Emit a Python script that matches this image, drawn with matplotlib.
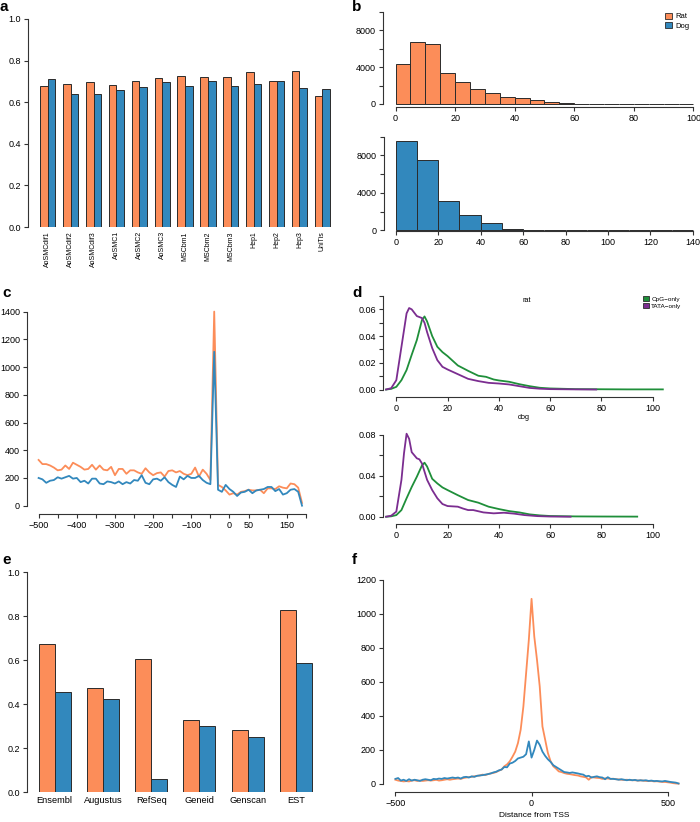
import numpy as np
import matplotlib
matplotlib.use('Agg')
import matplotlib.pyplot as plt
from matplotlib.patches import Patch

plt.rcParams['font.family'] = ['Liberation Sans', 'DejaVu Sans']
plt.rcParams['font.size'] = 6.5

ORANGE = '#FC8D59'
BLUE = '#3288BD'
GREEN = '#1F8F3A'
PURPLE = '#7B2D90'
EDGE = '#2b2b2b'

# panel a
cells = ['AoSMCdif1', 'AoSMCdif2', 'AoSMCdif3', 'AoSMC1', 'AoSMC2', 'AoSMC3',
         'MSCbm1', 'MSCbm2', 'MSCbm3', 'Hep1', 'Hep2', 'Hep3', 'UniTis']
a_rat = [0.679, 0.687, 0.696, 0.684, 0.703, 0.717, 0.724, 0.719, 0.719, 0.743, 0.700, 0.752, 0.631]
a_dog = [0.712, 0.639, 0.641, 0.661, 0.671, 0.696, 0.676, 0.700, 0.676, 0.687, 0.704, 0.666, 0.665]

# panel b
rat_edges = list(range(0, 105, 5))
rat_counts = [4320, 6740, 6450, 3350, 2380, 1660, 1190, 790, 650, 470, 180, 75, 40, 20, 12, 8, 6, 5, 4, 3]
dog_edges = list(range(0, 150, 10))
dog_counts = [9510, 7500, 3170, 1660, 760, 145, 72, 36, 15, 8, 6, 5, 4, 3]

# panel c
c_pos = list(range(-500, 200, 10))
c_rat = [330, 300, 300, 290, 275, 255, 260, 290, 265, 310, 295, 280, 260, 265, 295, 260,
         290, 260, 255, 280, 220, 265, 265, 230, 255, 255, 240, 230, 270, 240, 220, 235,
         240, 210, 250, 255, 240, 250, 230, 220, 230, 275, 210, 260, 230, 185,
         1400,
         150, 135, 110, 80, 90, 80, 100, 105, 115, 110, 110, 115, 90, 125, 125, 120,
         140, 130, 125, 160, 155, 130, 20]
c_dog = [200, 190, 165, 180, 185, 205, 195, 205, 215, 195, 200, 170, 180, 160, 195, 195,
         160, 155, 175, 170, 160, 175, 155, 170, 160, 185, 180, 220, 165, 155, 190, 195,
         180, 205, 170, 150, 135, 210, 190, 215, 200, 200, 215, 185, 165, 155,
         1110,
         115, 100, 150, 120, 100, 70, 95, 100, 115, 90, 110, 115, 120, 135, 135, 105,
         120, 80, 90, 115, 120, 100, 0]

# panel d (density curves)
d_rat_cpg_x = [-4, -2, 0, 2, 4, 6, 8, 10, 11, 12, 14, 16, 18, 20, 24, 28, 32, 35, 38, 40,
               44, 48, 52, 56, 60, 70, 80, 90, 104]
d_rat_cpg_y = [0.0, 0.0005, 0.002, 0.007, 0.0146, 0.026, 0.037, 0.052, 0.0547, 0.051, 0.040,
               0.032, 0.028, 0.025, 0.018, 0.014, 0.0103, 0.0095, 0.0075, 0.0068, 0.0058,
               0.004, 0.0025, 0.0013, 0.0008, 0.0003, 0.0002, 0.0001, 0.0001]
d_rat_tata_x = [-4, -2, 0, 2, 4, 5, 6, 8, 10, 11, 12, 14, 16, 18, 20, 24, 28, 32, 36, 40,
                44, 48, 52, 56, 60, 70, 78]
d_rat_tata_y = [0.0, 0.001, 0.007, 0.032, 0.057, 0.061, 0.060, 0.055, 0.0535, 0.050, 0.043,
                0.031, 0.022, 0.017, 0.015, 0.0115, 0.008, 0.0063, 0.005, 0.0045, 0.0038,
                0.0025, 0.0012, 0.0006, 0.0003, 0.0001, 0.0]
d_dog_cpg_x = [-4, -2, 0, 2, 4, 6, 8, 10, 11, 12, 14, 16, 18, 20, 24, 28, 32, 36, 40, 44,
               48, 52, 56, 60, 70, 80, 94]
d_dog_cpg_y = [0.0, 0.0004, 0.0016, 0.0065, 0.018, 0.029, 0.039, 0.050, 0.0527, 0.049, 0.037,
               0.0325, 0.0286, 0.026, 0.021, 0.0163, 0.0137, 0.0098, 0.0075, 0.0055, 0.0042,
               0.0023, 0.0013, 0.0007, 0.0003, 0.0002, 0.0001]
d_dog_tata_x = [-4, -2, 0, 2, 3, 4, 5, 6, 8, 9, 10, 12, 14, 16, 18, 20, 24, 26, 28, 30, 34,
                38, 42, 46, 50, 55, 60, 68]
d_dog_tata_y = [0.0, 0.001, 0.005, 0.036, 0.062, 0.081, 0.076, 0.063, 0.057, 0.056, 0.052,
                0.036, 0.026, 0.018, 0.0124, 0.0104, 0.0098, 0.008, 0.0065, 0.0065, 0.0042,
                0.0033, 0.0039, 0.003, 0.0016, 0.0006, 0.0002, 0.0]

# panel e
tools = ['Ensembl', 'Augustus', 'RefSeq', 'Geneid', 'Genscan', 'EST']
e_rat = [0.674, 0.474, 0.604, 0.329, 0.284, 0.828]
e_dog = [0.455, 0.424, 0.059, 0.302, 0.249, 0.585]

# panel f
f_pos = list(range(-500, 550, 10))
f_rat = [25, 20, 18, 15, 17, 15, 20, 22, 18, 20,
         18, 20, 22, 20, 22, 25, 20, 22, 25, 28,
         25, 28, 30, 32, 30, 35, 38, 40, 42, 45,
         48, 50, 55, 52, 58, 62, 65, 70, 78, 85,
         104, 115, 133, 160, 190, 240, 318, 455, 650, 846,
         1087, 866, 729, 573, 338, 260, 182, 133, 104, 90,
         74, 70, 64, 60, 58, 55, 52, 50, 45, 42,
         39, 25, 40, 38, 36, 35, 30, 33, 32, 30,
         31, 28, 27, 25, 24, 25, 23, 22, 22, 20,
         21, 20, 18, 17, 18, 15, 16, 14, 12, 12,
         10, 8, 5, 3, 2]
f_dog = [30, 35, 20, 25, 18, 28, 20, 25, 22, 18,
         25, 28, 25, 22, 30, 28, 32, 30, 35, 32,
         35, 38, 35, 38, 32, 40, 42, 38, 45, 42,
         48, 50, 52, 55, 58, 62, 68, 72, 80, 85,
         100, 98, 120, 125, 135, 150, 155, 160, 175, 250,
         155, 200, 255, 230, 190, 165, 145, 130, 110, 100,
         90, 80, 70, 68, 65, 68, 65, 62, 58, 55,
         45, 48, 38, 42, 45, 40, 38, 28, 40, 30,
         30, 28, 25, 28, 25, 22, 25, 22, 24, 20,
         22, 20, 22, 18, 20, 17, 18, 16, 15, 18,
         15, 12, 10, 8, 3]

W, H = 700, 822
fig = plt.figure(figsize=(W / 100, H / 100), dpi=100)


def px_axes(left, top, right, bottom):
    ax = fig.add_axes([left / W, 1 - bottom / H, (right - left) / W, (bottom - top) / H])
    ax.patch.set_alpha(0)
    for s in ['top', 'right']:
        ax.spines[s].set_visible(False)
    for s in ['left', 'bottom']:
        ax.spines[s].set_color('#333333')
        ax.spines[s].set_linewidth(0.8)
    ax.tick_params(length=3, width=0.8, color='#333333', labelsize=6.5, pad=2)
    return ax


def letter(x, y, s):
    fig.text(x / W, 1 - y / H, s, fontsize=11, fontweight='bold', va='top', ha='left')


def ftext(x, y, s, size):
    fig.text(x / W, 1 - y / H, s, fontsize=size, ha='center', va='center')


# ---- a ----
ax = px_axes(28, 19, 333, 227)
idx = np.arange(len(cells))
ax.bar(1 + 3 * idx, a_rat, width=1, align='edge', color=ORANGE, edgecolor=EDGE, linewidth=0.7)
ax.bar(2 + 3 * idx, a_dog, width=1, align='edge', color=BLUE, edgecolor=EDGE, linewidth=0.7)
ax.set_xlim(-0.6, 39.4)
ax.set_ylim(0, 1)
ax.set_yticks(np.arange(0, 1.01, 0.2))
ax.set_yticklabels(['%.1f' % v for v in np.arange(0, 1.01, 0.2)])
ax.spines['bottom'].set_visible(False)
ax.set_xticks(2 + 3 * idx)
ax.set_xticklabels(cells, rotation=90, fontsize=5)
ax.tick_params(axis='x', length=0, pad=3)
letter(0, 0, 'a')

# ---- b ----
ax = px_axes(383, 10, 697, 107)
ax.bar(rat_edges[:-1], rat_counts, width=5, align='edge', color=ORANGE, edgecolor=EDGE, linewidth=0.7)
ax.set_xlim(-4.2, 101.2)
ax.set_ylim(-326, 10185)
ax.set_yticks(range(0, 10001, 2000))
ax.set_yticklabels(['0', '', '4000', '', '8000', ''])
ax.set_xticks(range(0, 101, 20))
ax.spines['left'].set_bounds(0, 10000)
ax.spines['bottom'].set_bounds(0, 100)
ax.legend(handles=[Patch(facecolor=ORANGE, edgecolor=EDGE, linewidth=0.6, label='Rat'),
                   Patch(facecolor=BLUE, edgecolor=EDGE, linewidth=0.6, label='Dog')],
          loc='upper right', bbox_to_anchor=(0.99, 1.02), frameon=False, fontsize=5.5,
          handlelength=0.9, handleheight=0.9, handletextpad=0.4, labelspacing=0.2,
          borderaxespad=0.2)
letter(352, 0, 'b')

ax = px_axes(384, 134, 697, 231)
ax.bar(dog_edges[:-1], dog_counts, width=10, align='edge', color=BLUE, edgecolor=EDGE, linewidth=0.7)
ax.set_xlim(-5.5, 141.9)
ax.set_ylim(-60, 10290)
ax.set_yticks(range(0, 10001, 2000))
ax.set_yticklabels(['0', '', '4000', '', '8000', ''])
ax.set_xticks(range(0, 141, 20))
ax.spines['left'].set_bounds(0, 10000)
ax.spines['bottom'].set_bounds(0, 140)

# ---- c ----
ax = px_axes(27, 308, 315, 514)
ax.plot(c_pos, c_rat, color=ORANGE, lw=1.3)
ax.plot(c_pos, c_dog, color=BLUE, lw=1.3)
ax.set_xlim(-530.4, 224)
ax.set_ylim(-60, 1426)
ax.set_yticks(range(0, 1401, 200))
ax.spines['left'].set_bounds(0, 1400)
xt = list(range(-500, 201, 50))
shown = {-500, -400, -300, -200, -100, 0, 50, 150}
ax.set_xticks(xt)
ax.set_xticklabels([(str(v).replace('-', '\u2212') if v in shown else '') for v in xt])
ax.spines['bottom'].set_bounds(-500, 200)
letter(2, 286, 'c')

# ---- d ----
ax = px_axes(383, 290, 690, 397)
ax.plot(d_rat_cpg_x, d_rat_cpg_y, color=GREEN, lw=1.3)
ax.plot(d_rat_tata_x, d_rat_tata_y, color=PURPLE, lw=1.3)
ax.set_xlim(-5.2, 114.6)
ax.set_ylim(-0.0056, 0.0745)
ax.set_yticks(np.arange(0, 0.0701, 0.01))
ax.set_yticklabels(['0.00', '', '0.02', '', '0.04', '', '0.06', ''])
ax.spines['left'].set_bounds(0, 0.07)
ax.set_xticks(range(0, 101, 20))
ax.spines['bottom'].set_bounds(0, 100)
ax.legend(handles=[Patch(facecolor=GREEN, edgecolor=EDGE, linewidth=0.6, label='CpG\u2212only'),
                   Patch(facecolor=PURPLE, edgecolor=EDGE, linewidth=0.6, label='TATA\u2212only')],
          loc='upper right', bbox_to_anchor=(0.985, 0.98), frameon=False, fontsize=4.6,
          handlelength=0.9, handleheight=0.9, handletextpad=0.4, labelspacing=0.15,
          borderaxespad=0.2)
ftext(527, 300, 'rat', 5.2)
letter(352, 286, 'd')

ax = px_axes(383, 425, 690, 524)
ax.plot(d_dog_cpg_x, d_dog_cpg_y, color=GREEN, lw=1.3)
ax.plot(d_dog_tata_x, d_dog_tata_y, color=PURPLE, lw=1.3)
ax.set_xlim(-5.2, 114.6)
ax.set_ylim(-0.0071, 0.0895)
ax.set_yticks(np.arange(0, 0.0801, 0.02))
ax.set_yticklabels(['0.00', '', '0.04', '', '0.08'])
ax.spines['left'].set_bounds(0, 0.08)
ax.set_xticks(range(0, 101, 20))
ax.spines['bottom'].set_bounds(0, 100)
ftext(524, 417, 'dog', 5.2)

# ---- e ----
ax = px_axes(27, 572, 320, 792)
idx = np.arange(len(tools))
ax.bar(1 + 3 * idx, e_rat, width=1, align='edge', color=ORANGE, edgecolor=EDGE, linewidth=0.7)
ax.bar(2 + 3 * idx, e_dog, width=1, align='edge', color=BLUE, edgecolor=EDGE, linewidth=0.7)
ax.set_xlim(0.28, 18.5)
ax.set_ylim(0, 1)
ax.set_yticks(np.arange(0, 1.01, 0.2))
ax.set_yticklabels(['%.1f' % v for v in np.arange(0, 1.01, 0.2)])
ax.spines['bottom'].set_visible(False)
ax.set_xticks(2 + 3 * idx)
ax.set_xticklabels(tools, fontsize=6.7)
ax.tick_params(axis='x', length=0, pad=3)
letter(2, 553, 'e')

# ---- f ----
ax = px_axes(383, 575, 685, 792)
ax.plot(f_pos, f_rat, color=ORANGE, lw=1.3)
ax.plot(f_pos, f_dog, color=BLUE, lw=1.3)
ax.set_xlim(-545.6, 563.6)
ax.set_ylim(-47, 1227)
ax.set_yticks(range(0, 1201, 200))
ax.spines['left'].set_bounds(0, 1200)
ax.set_xticks([-500, 0, 500])
ax.set_xticklabels(['\u2212500', '0', '500'])
ax.spines['bottom'].set_bounds(-500, 500)
ax.set_xlabel('Distance from TSS', fontsize=6, labelpad=3)
letter(352, 553, 'f')

fig.savefig('out.png', dpi=100)
